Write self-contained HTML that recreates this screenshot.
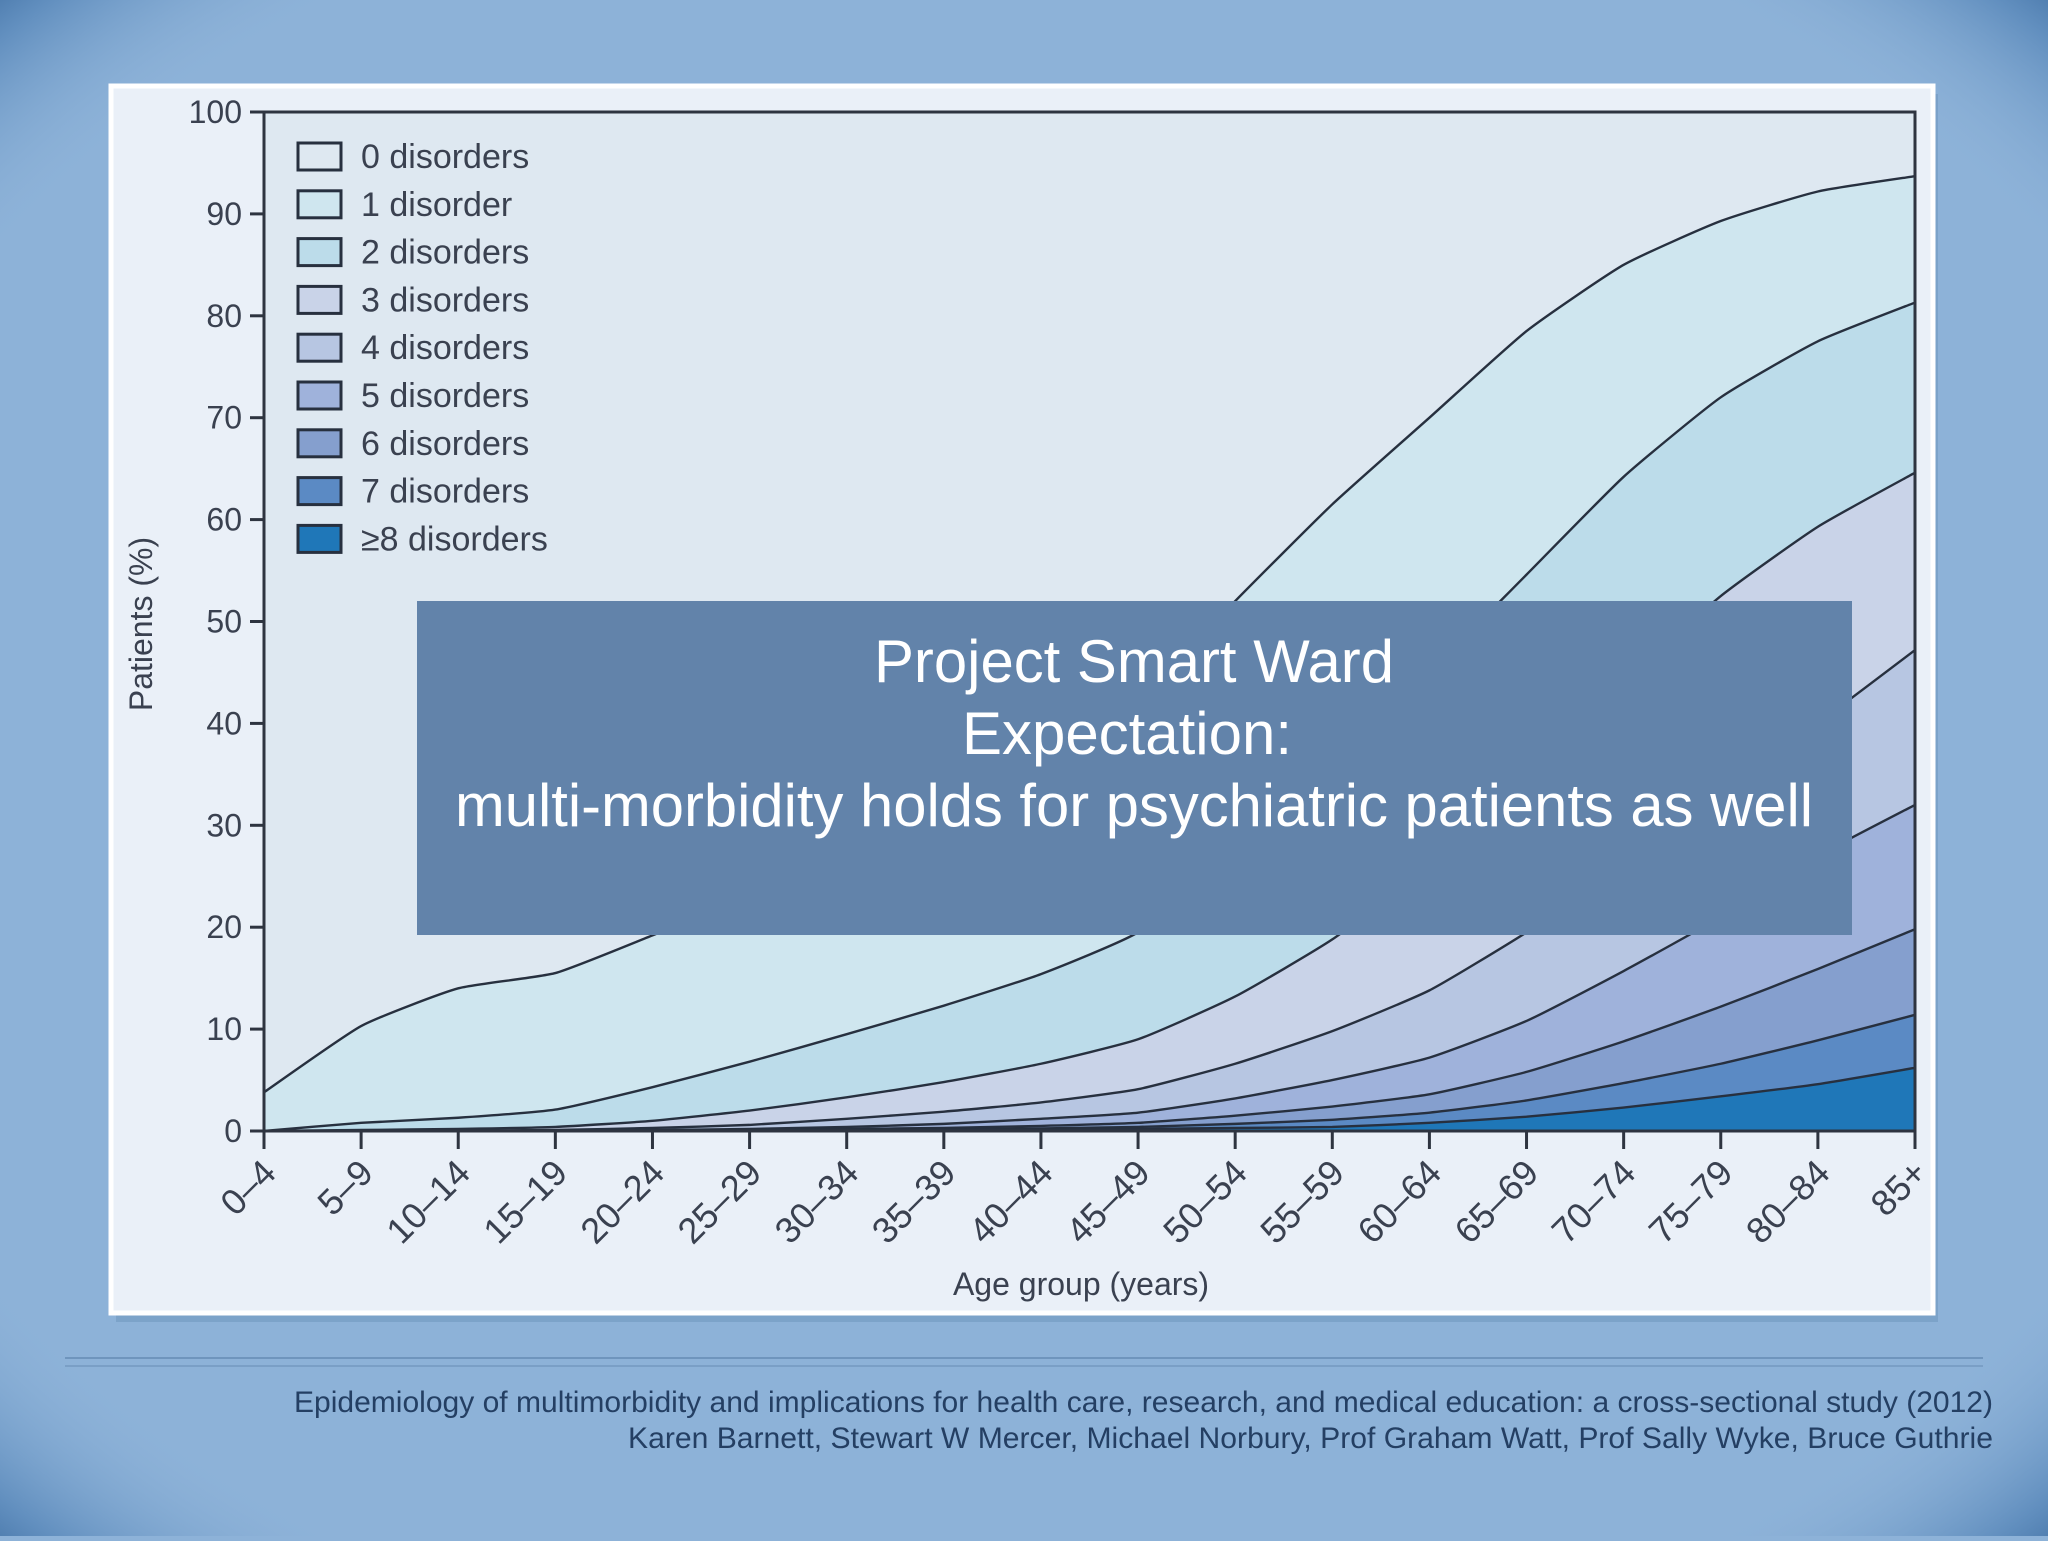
<!DOCTYPE html>
<html><head><meta charset="utf-8">
<style>
html,body{margin:0;padding:0;}
body{width:2048px;height:1536px;overflow:hidden;background:#8db2d8;font-family:"Liberation Sans",sans-serif;}
</style></head>
<body>
<svg width="2048" height="1536" viewBox="0 0 2048 1536" xmlns="http://www.w3.org/2000/svg">
<defs>
<radialGradient id="vig" cx="50%" cy="50%" r="75%">
<stop offset="0.8" stop-color="#8db2d8" stop-opacity="0"/>
<stop offset="0.92" stop-color="#4f80b4" stop-opacity="0.7"/>
<stop offset="1" stop-color="#1e4f86" stop-opacity="1"/>
</radialGradient>
</defs>
<rect x="0" y="0" width="2048" height="1536" fill="#8db2d8"/>
<rect x="0" y="0" width="2048" height="1536" fill="url(#vig)"/>
<rect x="116" y="94" width="1822" height="1228" fill="#5f86b0" opacity="0.35"/>
<rect x="111" y="86" width="1822" height="1227" fill="#eaf0f8" stroke="#ffffff" stroke-width="5"/>
<g id="chart"></g>
<rect x="417" y="601" width="1435" height="334" fill="#6283aa"/>
<text x="1134" y="682" fill="#ffffff" font-size="60" text-anchor="middle" textLength="520" lengthAdjust="spacingAndGlyphs">Project Smart Ward</text>
<text x="1127" y="754" fill="#ffffff" font-size="60" text-anchor="middle" textLength="330" lengthAdjust="spacingAndGlyphs">Expectation:</text>
<text x="1134" y="826" fill="#ffffff" font-size="60" text-anchor="middle" textLength="1358" lengthAdjust="spacingAndGlyphs">multi-morbidity holds for psychiatric patients as well</text>
<line x1="65" y1="1358" x2="1983" y2="1358" stroke="#6f95bd" stroke-width="2"/>
<line x1="65" y1="1366" x2="1983" y2="1366" stroke="#7a9fc6" stroke-width="2"/>
<text x="1993" y="1412" fill="#243f63" font-size="30" text-anchor="end" textLength="1699" lengthAdjust="spacingAndGlyphs">Epidemiology of multimorbidity and implications for health care, research, and medical education: a cross-sectional study (2012)</text>
<text x="1993" y="1448" fill="#243f63" font-size="30" text-anchor="end" textLength="1365" lengthAdjust="spacingAndGlyphs">Karen Barnett, Stewart W Mercer, Michael Norbury, Prof Graham Watt, Prof Sally Wyke, Bruce Guthrie</text>
</svg>
<script>
const categories=["0–4","5–9","10–14","15–19","20–24","25–29","30–34","35–39","40–44","45–49","50–54","55–59","60–64","65–69","70–74","75–79","80–84","85+"];
const atLeast1=[3.8,10.3,14,15.5,19.2,23,27,31,35.5,42,52,61.5,70,78.5,85,89.3,92.2,93.7];
const atLeast2=[0,0.8,1.3,2.1,4.3,6.8,9.5,12.3,15.4,19.5,27,36,45,54.6,64.2,72,77.5,81.3];
const atLeast3=[0,0.1,0.2,0.4,1.0,2.0,3.3,4.8,6.6,9.0,13.2,18.8,26,35,44,52.5,59.3,64.6];
const atLeast4=[0,0,0.05,0.1,0.3,0.6,1.2,1.9,2.8,4.1,6.6,9.8,13.8,19.5,26,33,40,47.2];
const atLeast5=[0,0,0,0.05,0.1,0.2,0.4,0.7,1.2,1.8,3.2,5.0,7.2,10.8,15.7,21,27,32];
const atLeast6=[0,0,0,0,0.05,0.1,0.2,0.3,0.5,0.8,1.5,2.4,3.6,5.8,8.8,12.2,15.9,19.8];
const atLeast7=[0,0,0,0,0,0.05,0.1,0.15,0.25,0.4,0.7,1.1,1.8,3.0,4.7,6.6,8.9,11.4];
const atLeast8=[0,0,0,0,0,0,0.05,0.1,0.15,0.2,0.3,0.4,0.8,1.4,2.3,3.4,4.6,6.2];
const yTicks=[0,10,20,30,40,50,60,70,80,90,100];
const legendLabels=["0 disorders","1 disorder","2 disorders","3 disorders","4 disorders","5 disorders","6 disorders","7 disorders","≥8 disorders"];
const colors=["#dee8f1","#cfe6ef","#bcdcea","#c9d3e8","#b7c6e2","#9fb2db","#859fce","#5b8ac4","#1f77b8"];
const NS="http://www.w3.org/2000/svg";
const g=document.getElementById('chart');
const X0=264,X1=1915,Y0=1131,Y1=112;
const xs=i=>X0+(X1-X0)*i/(categories.length-1);
const ys=v=>Y0-(Y0-Y1)*v/100;
function mk(t,a){const e=document.createElementNS(NS,t);for(const k in a)e.setAttribute(k,a[k]);g.appendChild(e);return e;}
function curve(arr,rev){
  let pts=arr.map((v,i)=>[xs(i),ys(v)]);
  if(rev)pts=pts.slice().reverse();
  let d="";
  const T=12;
  for(let i=0;i<pts.length-1;i++){
    const p0=pts[Math.max(i-1,0)],p1=pts[i],p2=pts[i+1],p3=pts[Math.min(i+2,pts.length-1)];
    const c1=[p1[0]+(p2[0]-p0[0])/T,p1[1]+(p2[1]-p0[1])/T];
    const c2=[p2[0]-(p3[0]-p1[0])/T,p2[1]-(p3[1]-p1[1])/T];
    d+=`C${c1[0]},${c1[1]} ${c2[0]},${c2[1]} ${p2[0]},${p2[1]} `;
  }
  return {start:pts[0],d};
}
let bg=mk('rect',{x:X0,y:Y1,width:X1-X0,height:Y0-Y1,fill:colors[0]});


const series=[atLeast1,atLeast2,atLeast3,atLeast4,atLeast5,atLeast6,atLeast7,atLeast8];
series.forEach((s,k)=>{
  const next=k<7?series[k+1]:null;
  const top=curve(s,false);
  let d=`M${top.start[0]},${top.start[1]} ${top.d}`;
  if(next){const b=curve(next,true);d+=`L${b.start[0]},${b.start[1]} ${b.d}Z`;}
  else d+=`L${X1},${Y0} L${X0},${Y0}Z`;
  const a=mk('path',{d,fill:colors[k+1],stroke:'none'});
  
  
});
series.forEach((s,k)=>{
  const c=curve(s,false);
  const l=mk('path',{d:`M${c.start[0]},${c.start[1]} ${c.d}`,fill:'none',stroke:'#27303f','stroke-width':2.4});
  
  
});
let fr=mk('path',{d:`M${X0},${Y1} L${X1},${Y1} L${X1},${Y0} M${X0},${Y1} L${X0},${Y0} L${X1},${Y0}`,fill:'none',stroke:'#2e3440','stroke-width':3});


yTicks.forEach(v=>{
  const t=mk('line',{x1:X0-14,x2:X0,y1:ys(v),y2:ys(v),stroke:'#2e3440','stroke-width':3});
  
  
  const tx=mk('text',{x:X0-22,y:ys(v)+11,'text-anchor':'end','font-size':32,fill:'#3a4150'});
  tx.textContent=v;
  
  
});
categories.forEach((c,i)=>{
  const t=mk('line',{x1:xs(i),x2:xs(i),y1:Y0,y2:Y0+18,stroke:'#2e3440','stroke-width':3});
  
  
  const ax=xs(i)+14, ay=Y0+44;
  const tx=mk('text',{x:ax,y:ay,'text-anchor':'end','font-size':36,fill:'#3a4150',transform:`rotate(-45 ${ax} ${ay})`});
  tx.textContent=c;
  
  
});
let yt=mk('text',{x:152,y:624,'text-anchor':'middle','font-size':32,fill:'#3a4150',transform:'rotate(-90 152 624)'});
yt.textContent='Patients (%)';


let xt=mk('text',{x:1081,y:1295,'text-anchor':'middle','font-size':32,fill:'#3a4150'});
xt.textContent='Age group (years)';


legendLabels.forEach((lab,k)=>{
  const cy=156+47.8*k;
  const r=mk('rect',{x:298,y:cy-13,width:43,height:27,fill:colors[k],stroke:'#27303f','stroke-width':3});
  
  
  const t=mk('text',{x:361,y:cy+12,'font-size':34,fill:'#3a4150'});
  t.textContent=lab;
  
  
});
</script>
</body></html>
